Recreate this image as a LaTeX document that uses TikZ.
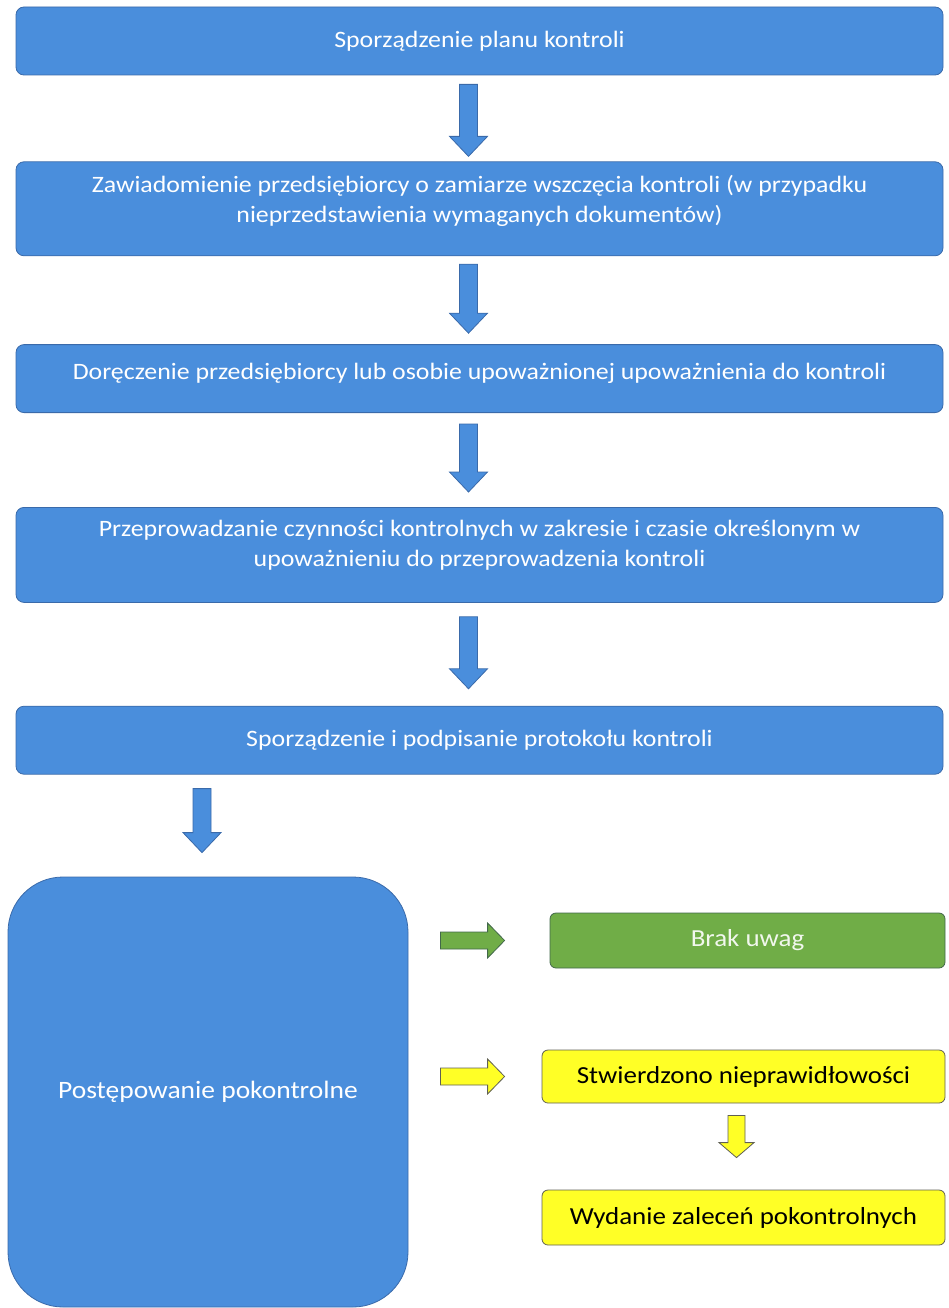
\documentclass[tikz,border=0pt]{standalone}
\usepackage{fontspec}
\setmainfont{Carlito}[FakeStretch=1.1]
\usetikzlibrary{calc,positioning}

\definecolor{boxblue}{RGB}{74,142,220}
\definecolor{edgeblue}{RGB}{58,106,170}
\definecolor{boxgreen}{RGB}{112,173,71}
\definecolor{edgegreen}{RGB}{66,104,74}
\definecolor{boxyellow}{RGB}{255,255,38}
\definecolor{edgeyellow}{RGB}{96,96,84}

\tikzset{
  arrow shaft/.store in=\arrshaft, arrow shaft=9pt,
  arrow head/.store in=\arrhead, arrow head=19pt,
  arrow tip/.store in=\arrtip, arrow tip=20pt,
  % block arrows drawn as filled outlines between two points
  block down/.style={line width=0.8pt, to path={
    ($(\tikztostart)+(-\arrshaft,0)$) -- ($(\tikztotarget)+(-\arrshaft,\arrtip)$)
    -- ($(\tikztotarget)+(-\arrhead,\arrtip)$) -- (\tikztotarget)
    -- ($(\tikztotarget)+(\arrhead,\arrtip)$) -- ($(\tikztotarget)+(\arrshaft,\arrtip)$)
    -- ($(\tikztostart)+(\arrshaft,0)$) -- cycle}},
  block right/.style={line width=0.8pt, to path={
    ($(\tikztostart)+(0,\arrshaft)$) -- ($(\tikztotarget)+(-\arrtip,\arrshaft)$)
    -- ($(\tikztotarget)+(-\arrtip,\arrhead)$) -- (\tikztotarget)
    -- ($(\tikztotarget)+(-\arrtip,-\arrhead)$) -- ($(\tikztotarget)+(-\arrtip,-\arrshaft)$)
    -- ($(\tikztostart)+(0,-\arrshaft)$) -- cycle}},
  small arrow/.style={arrow shaft=8.5pt, arrow head=17.5pt, arrow tip=17pt},
}

\begin{document}
\begin{tikzpicture}[x=1pt, y=1pt,
  stepbox/.style={rectangle, draw=edgeblue, line width=0.8pt, fill=boxblue, rounded corners=8pt,
    text=white, align=center, minimum width=927pt, font=\fontsize{23.5}{30}\selectfont},
  bluearrow/.style={block down, draw=edgeblue, fill=boxblue},
  bigbox/.style={rectangle, draw=edgeblue, line width=0.8pt, fill=boxblue, rounded corners=55pt,
    text=white, minimum width=400pt, minimum height=430pt, font=\fontsize{25}{30}\selectfont},
  resultbox/.style={rectangle, line width=0.8pt, rounded corners=6pt, font=\fontsize{24.5}{30}\selectfont}]
\useasboundingbox (0,0) rectangle (949,-1308);

\node[stepbox, minimum height=68pt] (plan) at (479.5,-41) {Sporządzenie planu kontroli};
\node[stepbox, minimum height=94pt, text depth=19pt, below=86pt of plan] (notice) {Zawiadomienie przedsiębiorcy o zamiarze wszczęcia kontroli (w przypadku\\nieprzedstawienia wymaganych dokumentów)};
\node[stepbox, minimum height=68pt, text depth=14pt, below=88pt of notice] (deliver) {Doręczenie przedsiębiorcy lub osobie upoważnionej upoważnienia do kontroli};
\node[stepbox, minimum height=95pt, text depth=23pt, below=94pt of deliver] (inspect) {Przeprowadzanie czynności kontrolnych w zakresie i czasie określonym w\\upoważnieniu do przeprowadzenia kontroli};
\node[stepbox, minimum height=68pt, below=103pt of inspect] (report) {Sporządzenie i podpisanie protokołu kontroli};

\node[bigbox] (follow) at (208,-1092) {Postępowanie pokontrolne};
\node[resultbox, draw=edgegreen, fill=boxgreen, text=white!90!boxgreen, minimum width=395pt, minimum height=55pt] (noremarks) at (747.5,-940.5) {Brak uwag};
\node[resultbox, draw=edgeyellow, fill=boxyellow, minimum width=403pt, minimum height=53pt] (faults) at (743.5,-1076.5) {Stwierdzono nieprawidłowości};
\node[resultbox, draw=edgeyellow, fill=boxyellow, minimum width=403pt, minimum height=55pt] (orders) at (743.5,-1217.5) {Wydanie zaleceń pokontrolnych};

\draw[bluearrow] ([xshift=-11pt,yshift=-9pt]plan.south) to ([xshift=-11pt,yshift=5pt]notice.north);
\draw[bluearrow] ([xshift=-11pt,yshift=-8pt]notice.south) to ([xshift=-11pt,yshift=11pt]deliver.north);
\draw[bluearrow] ([xshift=-11pt,yshift=-11pt]deliver.south) to ([xshift=-11pt,yshift=15pt]inspect.north);
\draw[bluearrow] ([xshift=-11pt,yshift=-14pt]inspect.south) to ([xshift=-11pt,yshift=17pt]report.north);
\draw[bluearrow] ([xshift=-6pt,yshift=-14pt]report.south -| follow.north) to ([xshift=-6pt,yshift=24pt]follow.north);

\draw[block right, small arrow, draw=edgegreen, fill=boxgreen] ([xshift=32pt]follow.east |- noremarks.west) to ([xshift=-45pt]noremarks.west);
\draw[block right, small arrow, draw=edgeyellow, fill=boxyellow] ([xshift=32pt]follow.east |- faults.west) to ([xshift=-37pt]faults.west);
\draw[block down, small arrow, arrow tip=15pt, draw=edgeyellow, fill=boxyellow] ([xshift=-7pt,yshift=-12pt]faults.south) to ([xshift=-7pt,yshift=32pt]orders.north);
\end{tikzpicture}
\end{document}
